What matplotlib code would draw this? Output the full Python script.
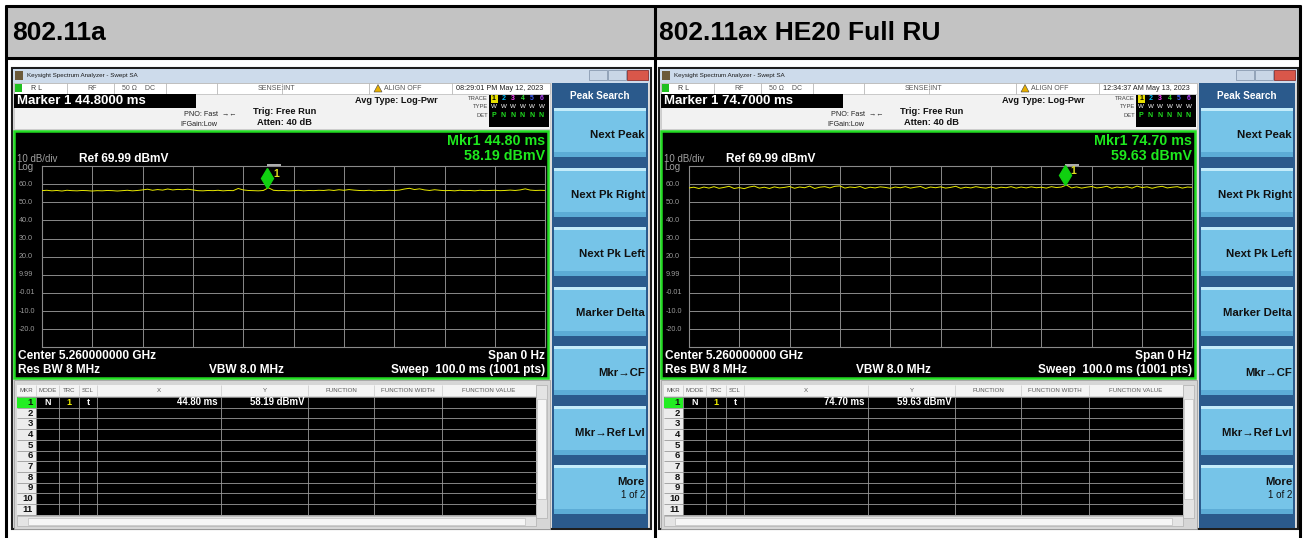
import numpy as np
import matplotlib
matplotlib.use("Agg")
import matplotlib.pyplot as plt
from matplotlib.patches import Rectangle, Polygon
from matplotlib.transforms import offset_copy

plt.rcParams['font.family'] = ['Liberation Sans', 'DejaVu Sans']

W, H = 1303, 538

titles = ["802.11a", "802.11ax HE20 Full RU"]
marker_hdr = ["Marker 1 44.8000 ms", "Marker 1 74.7000 ms"]
timestamps = ["08:29:01 PM May 12, 2023", "12:34:37 AM May 13, 2023"]
mkr_x = [44.80, 74.70]        # ms
mkr_y = [58.19, 59.63]        # dBmV

ref_level = 69.99
y_ticks = [59.99, 49.99, 39.99, 29.99, 19.99, 9.99, -0.01, -10.01, -20.01]
y_tick_labels = ["60.0", "50.0", "40.0", "30.0", "20.0", "9.99", "-0.01", "-10.0", "-20.0"]
sweep_ms = 100.0

trace_a = [56.4, 56.6, 56.3, 56.5, 56.2, 56.6, 56.4, 56.3, 56.5, 56.4,
           56.2, 56.4, 56.3, 56.5, 56.4, 56.2, 56.4, 56.6, 56.3, 56.5,
           56.8, 57.2, 56.6, 57.0, 56.7, 57.3, 56.8, 57.1, 56.9, 57.2,
           56.8, 56.4, 56.3, 56.5, 56.4, 56.6, 56.3, 56.5, 56.4, 57.6,
           56.8, 56.5, 56.4, 56.3, 56.5, 58.0, 56.6, 56.4, 56.5, 56.3,
           56.4, 56.6, 56.3, 56.5, 56.4, 56.6, 56.5, 56.8, 56.5, 56.9,
           56.6, 57.0, 56.7, 56.5, 56.4, 56.6, 56.3, 56.5, 56.4, 56.6,
           56.5, 56.7, 57.3, 57.7, 57.0, 57.4, 56.8, 56.5, 56.9, 56.6,
           56.4, 56.5, 56.3, 56.6, 56.4, 56.5, 56.3, 56.6, 56.4, 56.5,
           56.6, 56.4, 56.5, 56.7, 56.5, 56.8, 57.4, 56.7, 56.5, 56.6,
           56.5]
trace_b = [57.9, 58.3, 57.6, 58.4, 57.8, 58.6, 57.7, 58.2, 58.8, 57.6,
           58.1, 57.5, 58.4, 58.9, 57.8, 58.3, 57.6, 58.5, 57.9, 58.2,
           58.7, 57.7, 58.4, 58.0, 58.9, 57.6, 58.3, 58.6, 57.9, 58.8,
           59.0, 57.8, 58.4, 58.1, 58.7, 57.6, 58.3, 57.9, 58.5, 58.2,
           57.7, 58.4, 58.0, 58.6, 57.8, 58.3, 58.7, 57.6, 58.4, 58.0,
           58.5, 57.8, 58.2, 58.8, 57.7, 58.3, 57.9, 58.6, 58.1, 57.8,
           58.4, 57.7, 58.3, 58.0, 58.6, 57.8, 58.4, 57.9, 58.5, 58.0,
           58.3, 57.8, 58.6, 58.1, 58.4, 59.5, 57.9, 58.5, 57.8, 58.3,
           58.7, 57.9, 58.2, 58.8, 57.7, 58.4, 58.0, 58.6, 57.8, 58.9,
           58.1, 58.5, 57.7, 58.4, 58.8, 57.9, 58.3, 58.6, 57.8, 58.4,
           58.2]
traces = [trace_a, trace_b]

softkeys = ["Next Peak", "Next Pk Right", "Next Pk Left", "Marker Delta",
            "Mkr\u2192CF", "Mkr\u2192Ref Lvl", "More"]
table_cols = ["MKR", "MODE", "TRC", "SCL", "X", "Y", "FUNCTION",
              "FUNCTION WIDTH", "FUNCTION VALUE"]

fig = plt.figure(figsize=(W / 100, H / 100), dpi=100)
bg = fig.add_axes([0, 0, 1, 1])
bg.set_xlim(0, W)
bg.set_ylim(H, 0)
bg.axis('off')


def rect(x, y, w, h, fc, ec='none', lw=0, z=1):
    bg.add_patch(Rectangle((x, y), w, h, facecolor=fc, edgecolor=ec, linewidth=lw, zorder=z))


def line(x1, y1, x2, y2, c, lw=1, z=2):
    bg.plot([x1, x2], [y1, y2], color=c, lw=lw, zorder=z, solid_capstyle='butt')


def txt(x, y, s, size, color='black', weight='normal', ha='left', va='center', z=5):
    bg.text(x, y, s, fontsize=size, color=color, fontweight=weight, ha=ha, va=va, zorder=z)


# ---- outer table ----
rect(6, 7, 1294, 51, '#c3c3c3')
for yy in [6, 58]:
    line(5, yy, 1301, yy, 'black', 2.2)
for xx in [6, 655, 1300]:
    line(xx, 5, xx, 540, 'black', 2.2)
txt(12, 33, titles[0], 19, weight='bold')
txt(659, 33, titles[1], 19, weight='bold')


def screen(k):
    dx = 0 if k == 0 else 647
    X = lambda v: v + dx
    # window frame
    rect(X(12), 68, 639, 461, '#dcdcdc', ec='#1e1e1e', lw=1.5)
    # title bar
    rect(X(13), 69, 637, 14, '#cddbeb')
    rect(X(15), 71, 8, 9, '#6b5a3a')
    txt(X(27), 76, "Keysight Spectrum Analyzer - Swept SA", 4.5, color='#1a1a1a')
    rect(X(589), 70, 18, 10, '#c9d6e6', ec='#8a9ab0', lw=0.6, z=2)
    rect(X(608), 70, 18, 10, '#c9d6e6', ec='#8a9ab0', lw=0.6, z=2)
    rect(X(627), 70, 21, 10, '#d9574a', ec='#8a3030', lw=0.6, z=2)
    # status row
    rect(X(14), 83, 536, 11, 'white', ec='#b8b8b8', lw=0.6, z=2)
    for xx in [67, 114, 166, 217, 282, 369, 452]:
        line(X(xx), 83, X(xx), 94, '#b8b8b8', 0.6, z=3)
    rect(X(15), 84, 7, 8, '#20c020', z=3)
    txt(X(31), 88.5, "R L", 5, '#333333')
    txt(X(87), 88.5, "RF", 5, '#555555')
    txt(X(122), 88.5, "50 \u03a9    DC", 5, '#555555')
    txt(X(258), 88.5, "SENSE:INT", 5, '#555555')
    bg.add_patch(Polygon([[X(374), 92], [X(378), 84.5], [X(382), 92]], closed=True,
                         facecolor='#e8b000', edgecolor='#444444', lw=0.4, zorder=4))
    txt(X(384), 88.5, "ALIGN OFF", 5, '#555555')
    txt(X(456), 88.5, timestamps[k], 5.2, '#222222')
    # marker/settings block
    rect(X(14), 94, 536, 35, '#f2f2f2', ec='#c8c8c8', lw=0.6, z=2)
    rect(X(14), 94, 182, 14, 'black', z=3)
    txt(X(17), 101, marker_hdr[k], 9.5, 'white', 'bold')
    txt(X(184), 114, "PNO: Fast  \u2192\u2190", 5.2, '#222222')
    txt(X(180), 124, "IFGain:Low", 5.2, '#222222')
    txt(X(253), 111.5, "Trig: Free Run", 6.7, '#111111', 'bold')
    txt(X(257), 122.5, "Atten: 40 dB", 6.7, '#111111', 'bold')
    txt(X(355), 100.5, "Avg Type: Log-Pwr", 6.6, '#111111', 'bold')
    for lab, yy in zip(["TRACE", "TYPE", "DET"], [98.5, 107, 115.5]):
        txt(X(488), yy, lab, 4.2, '#444444', ha='right')
    rect(X(489), 94.5, 60, 32, 'black', z=3)
    nums_c = ['black', '#00c0ff', '#ff40ff', '#30e030', '#4060ff', '#b040ff']
    for i in range(6):
        xx = X(494 + i * 9.5)
        if i == 0:
            rect(xx - 3, 94.8, 7, 8, '#e8e000', z=4)
        txt(xx, 98.8, str(i + 1), 5, nums_c[i], 'bold', ha='center')
        txt(xx, 107, "W", 4.5, 'white', ha='center')
        txt(xx, 115.5, "P" if i == 0 else "N", 5, '#20e020', 'bold', ha='center')

    # plot frame
    rect(X(14), 131, 534, 247, 'black', ec='#22dd22', lw=1.8, z=2)
    txt(X(545), 141, "Mkr1 %.2f ms" % mkr_x[k], 10.3, '#1ee81e', 'bold', ha='right')
    txt(X(545), 156, "%.2f dBmV" % mkr_y[k], 10.3, '#1ee81e', 'bold', ha='right')
    txt(X(17), 159.5, "10 dB/div", 7, '#a0a0a0')
    txt(X(79), 158.5, "Ref %.2f dBmV" % ref_level, 8.6, 'white', 'bold')
    txt(X(17), 167, "Log", 7, '#a0a0a0')
    txt(X(18), 356, "Center 5.260000000 GHz", 8.6, 'white', 'bold')
    txt(X(545), 356, "Span 0 Hz", 8.6, 'white', 'bold', ha='right')
    txt(X(18), 370, "Res BW 8 MHz", 8.6, 'white', 'bold')
    txt(X(209), 370, "VBW 8.0 MHz", 8.6, 'white', 'bold')
    txt(X(545), 370, "Sweep  100.0 ms (1001 pts)", 8.6, 'white', 'bold', ha='right')

    # trace axes
    gx0, gx1, gy0, gy1 = X(41.8), X(545.4), 166.0, 347.4
    ax = fig.add_axes([gx0 / W, 1 - gy1 / H, (gx1 - gx0) / W, (gy1 - gy0) / H])
    ax.set_facecolor('none')
    ax.set_xlim(0, sweep_ms)
    ax.set_ylim(ref_level - 100, ref_level)
    ax.set_xticks(np.arange(0, 101, 10))
    ax.set_yticks(y_ticks)
    ax.tick_params(length=0, labelbottom=False, labelleft=False)
    ax.grid(True, color='#8a8a8a', lw=0.7)
    for s in ax.spines.values():
        s.set_color('#8a8a8a')
        s.set_linewidth(0.8)
    for v, lab in zip(y_ticks, y_tick_labels):
        ax.text(-23 / (gx1 - gx0), v, lab, transform=ax.get_yaxis_transform(),
                fontsize=5.2, color='#9a9a9a', ha='left', va='center', clip_on=False)
    t = np.linspace(0, sweep_ms, len(traces[k]))
    ax.plot(t, traces[k], color='#e8e800', lw=0.7, zorder=3)
    tr = offset_copy(ax.transData, fig=fig, x=0, y=7, units='points')
    ax.plot([mkr_x[k]], [mkr_y[k]], marker='d', ms=10, color='#10d010',
            transform=tr, clip_on=False, zorder=5)
    tr2 = offset_copy(ax.transData, fig=fig, x=4, y=10, units='points')
    ax.text(mkr_x[k], mkr_y[k], "1", transform=tr2, fontsize=7.5, color='#e0e020',
            fontweight='bold', ha='left', va='center', clip_on=False)
    mx = gx0 + mkr_x[k] / sweep_ms * (gx1 - gx0)
    line(mx, 164.5, mx + 14, 164.5, '#d0d0d0', 1.2, z=3)

    # marker table
    rect(X(14), 380, 536, 149, '#d6d6d6', ec='#a0a0a0', lw=0.6, z=2)
    cols_x = [17, 36, 59, 79, 97, 221, 308, 374, 442, 536]
    rect(X(17), 385, 519, 11, '#f4f4f4', z=3)
    hdr_c = [26.5, 47.5, 69, 88, 159, 264.5, 341, 408, 489]
    for cx, lab in zip(hdr_c, table_cols):
        txt(X(cx), 390.5, lab, 4.4, '#555555', ha='center', z=4)
    for xx in cols_x[1:-1]:
        line(X(xx), 385, X(xx), 396, '#c8c8c8', 0.5, z=4)
    row_h = 10.7
    ty0 = 397
    rect(X(36), ty0, 500, 11 * row_h, 'black', z=3)
    rect(X(17), ty0, 19, 11 * row_h, '#ececec', z=3)
    rect(X(17), ty0, 19, row_h, '#22ee22', z=4)
    for i in range(12):
        line(X(17), ty0 + i * row_h, X(536), ty0 + i * row_h, '#9a9a9a', 0.6, z=5)
    for xx in cols_x[1:-1]:
        line(X(xx), ty0, X(xx), ty0 + 11 * row_h, '#9a9a9a', 0.6, z=5)
    for i in range(11):
        txt(X(33), ty0 + (i + 0.5) * row_h, str(i + 1), 6.8, '#111111', 'bold', ha='right', z=6)
    cy = ty0 + 0.5 * row_h
    txt(X(47.5), cy, "N", 6.5, 'white', 'bold', ha='center', z=6)
    txt(X(69), cy, "1", 6.5, '#f0f000', 'bold', ha='center', z=6)
    txt(X(88), cy, "t", 6.5, 'white', 'bold', ha='center', z=6)
    txt(X(218), cy, "%.2f ms" % mkr_x[k], 6.9, 'white', 'bold', ha='right', z=6)
    txt(X(305), cy, "%.2f dBmV" % mkr_y[k], 6.9, 'white', 'bold', ha='right', z=6)
    # scrollbars
    rect(X(536), 385, 11, 133, '#e4e4e4', ec='#b0b0b0', lw=0.5, z=3)
    rect(X(537), 399, 9, 100, '#f6f6f6', ec='#c0c0c0', lw=0.5, z=4)
    rect(X(17), 516, 519, 10, '#e4e4e4', ec='#b0b0b0', lw=0.5, z=3)
    rect(X(28), 517.5, 497, 7, '#f6f6f6', ec='#c0c0c0', lw=0.5, z=4)

    # soft key panel
    rect(X(552), 83, 96, 445, '#2b5a8c', z=2)
    txt(X(600), 96, "Peak Search", 7.2, 'white', 'bold', ha='center', z=4)
    for i, lab in enumerate(softkeys):
        by = 108 + i * 59.5
        rect(X(554), by, 92, 49, '#76c4e8', z=3)
        rect(X(554), by, 92, 3, '#c4ecfa', z=4)
        rect(X(554), by + 44, 92, 5, '#5cacd6', z=4)
        if lab == "More":
            txt(X(645), by + 17, lab, 8.2, '#111111', 'bold', ha='right', z=5)
            txt(X(645), by + 30, "1 of 2", 7, '#111111', ha='right', z=5)
        else:
            txt(X(645), by + 27, lab, 8.2, '#111111', 'bold', ha='right', z=5)


screen(0)
screen(1)

fig.savefig("out.png", dpi=100)
